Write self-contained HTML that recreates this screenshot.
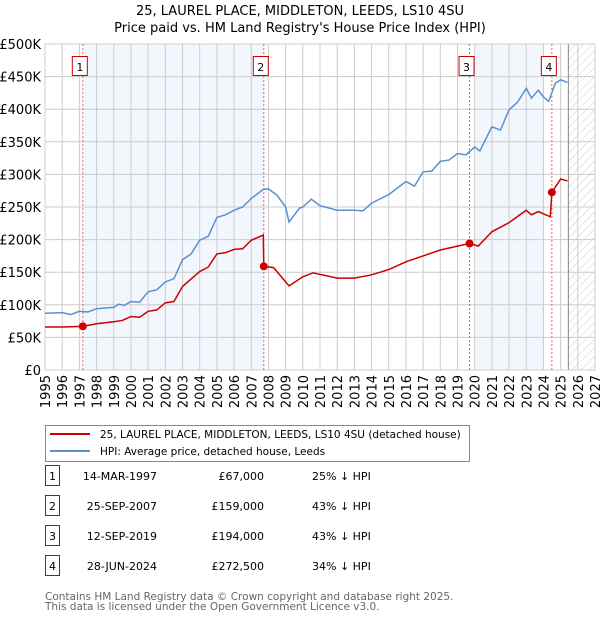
<!DOCTYPE html>
<html><head><meta charset="utf-8"><style>
body{margin:0;background:#fff;font-family:"Liberation Sans","DejaVu Sans",sans-serif;}
svg text{font-family:"DejaVu Sans","Liberation Sans",sans-serif;}
</style></head><body>
<svg id="chart" width="600" height="620" viewBox="0 0 600 620">
<defs><pattern id="hatch" width="6" height="6" patternUnits="userSpaceOnUse" patternTransform="rotate(45)"><line x1="0" y1="0" x2="0" y2="6" stroke="#ccc" stroke-width="1"/></pattern></defs>
<text x="300" y="15" text-anchor="middle" font-size="13">25, LAUREL PLACE, MIDDLETON, LEEDS, LS10 4SU</text>
<text x="300" y="32" text-anchor="middle" font-size="13">Price paid vs. HM Land Registry's House Price Index (HPI)</text>
<g id="plot"></g>
<g id="legend">
<rect x="45.5" y="425.5" width="424" height="36" fill="#fff" stroke="#888"/>
<line x1="50" y1="434" x2="90" y2="434" stroke="#cc0000" stroke-width="2"/>
<text x="100" y="438" font-size="10.5">25, LAUREL PLACE, MIDDLETON, LEEDS, LS10 4SU (detached house)</text>
<line x1="50" y1="451" x2="90" y2="451" stroke="#5b8fd0" stroke-width="2"/>
<text x="100" y="455" font-size="10.5">HPI: Average price, detached house, Leeds</text>
</g>
<g id="table" font-size="11"></g>
<text x="45" y="600" font-size="10.5" fill="#666">Contains HM Land Registry data © Crown copyright and database right 2025.</text>
<text x="45" y="610" font-size="10.5" fill="#666">This data is licensed under the Open Government Licence v3.0.</text>
</svg>
<script>
const hpiYears=[1995,1996,1996.5,1997,1997.5,1998,1998.5,1999,1999.3,1999.6,2000,2000.5,2001,2001.5,2002,2002.5,2003,2003.5,2004,2004.5,2005,2005.5,2006,2006.5,2007,2007.7,2008,2008.5,2009,2009.2,2009.8,2010,2010.5,2011,2012,2013,2013.5,2014,2015,2016,2016.5,2017,2017.5,2018,2018.5,2019,2019.5,2020,2020.3,2021,2021.5,2022,2022.5,2023,2023.3,2023.7,2024,2024.3,2024.7,2025,2025.4];
const hpiValues=[87,88,85,90,89,94,95,96,101,99,105,104,120,123,135,140,169,178,199,205,234,238,245,250,263,277,278,268,250,227,248,250,262,252,245,245,244,256,269,289,282,304,305,320,322,332,330,342,336,373,368,399,411,432,417,429,419,412,440,445,441];
const ppYears=[1995,1996,1997.2,1998,1999,1999.5,2000,2000.5,2001,2001.5,2002,2002.5,2003,2004,2004.5,2005,2005.5,2006,2006.5,2007,2007.7,2007.73,2008.3,2009.2,2010,2010.6,2012,2013,2014,2015,2016,2017,2018,2019,2019.7,2020.2,2021,2022,2023,2023.3,2023.7,2024.4,2024.49,2025,2025.4];
const ppValues=[66,66,67,71,74,76,82,81,90,92,103,105,128,151,158,178,180,185,186,199,207,159,157,129,143,149,141,141,146,154,166,175,184,190,194,190,212,226,245,238,243,235,272.5,293,290];
const saleLabels=["1","2","3","4"];
const saleYears=[1997.2,2007.73,2019.7,2024.49];
const saleValues=[67,159,194,272.5];
const saleDates=["14-MAR-1997","25-SEP-2007","12-SEP-2019","28-JUN-2024"];
const salePrices=["£67,000","£159,000","£194,000","£272,500"];
const saleDiffs=["25% ↓ HPI","43% ↓ HPI","43% ↓ HPI","34% ↓ HPI"];
const yTicks=[0,50,100,150,200,250,300,350,400,450,500];
const yTickLabels=["£0","£50K","£100K","£150K","£200K","£250K","£300K","£350K","£400K","£450K","£500K"];
const xTicks=[1995,1996,1997,1998,1999,2000,2001,2002,2003,2004,2005,2006,2007,2008,2009,2010,2011,2012,2013,2014,2015,2016,2017,2018,2019,2020,2021,2022,2023,2024,2025,2026,2027];
const shadeRanges=[[1997.2,2007.73],[2020.0,2024.0]];
const dataEnd=2025.45;

const L=45,R=595,T=44,B=370,X0=1995,X1=2027,YMAX=500;
const xs=v=>L+(v-X0)/(X1-X0)*(R-L);
const ys=v=>B-v/YMAX*(B-T);
const NS="http://www.w3.org/2000/svg";
const plot=document.getElementById('plot');
function mk(tag,attrs,parent){const e=document.createElementNS(NS,tag);for(const k in attrs)e.setAttribute(k,attrs[k]);(parent||plot).appendChild(e);return e;}

shadeRanges.forEach(r=>{const e=mk('rect',{x:xs(r[0]),y:T,width:xs(r[1])-xs(r[0]),height:B-T,fill:'#eef3fc',opacity:0.75});

});
const h=mk('rect',{x:xs(dataEnd),y:T,width:R-xs(dataEnd),height:B-T,fill:'url(#hatch)'});


yTicks.forEach((v,i)=>{mk('line',{x1:L,x2:R,y1:ys(v),y2:ys(v),stroke:'#ccc','stroke-width':1});
const t=mk('text',{x:L-4,y:ys(v)+5,'text-anchor':'end','font-size':13});t.textContent=yTickLabels[i];

});
xTicks.forEach(v=>{mk('line',{x1:xs(v),x2:xs(v),y1:T,y2:B,stroke:'#ccc','stroke-width':1});
const t=mk('text',{x:0,y:0,'text-anchor':'end','font-size':13,transform:`translate(${xs(v)+5},${B+5}) rotate(-90)`});t.textContent=v;

});
mk('line',{x1:xs(dataEnd),x2:xs(dataEnd),y1:T,y2:B,stroke:'#888','stroke-width':1});
mk('rect',{x:L,y:T,width:R-L,height:B-T,fill:'none',stroke:'#ccc'});
saleYears.forEach((v,i)=>{const l=mk('line',{x1:xs(v),x2:xs(v),y1:T,y2:B,stroke:'#f06060','stroke-dasharray':'2,2','stroke-width':1});


const cx=xs(v)-3;
const b=mk('rect',{x:cx-7.5,y:56.5,width:15,height:19,fill:'#fff',stroke:'#cc0000'});


const t=mk('text',{x:cx,y:71,'text-anchor':'middle','font-size':11});t.textContent=saleLabels[i];});
const hp=mk('polyline',{points:hpiYears.map((y,i)=>xs(y)+','+ys(hpiValues[i])).join(' '),fill:'none',stroke:'#5b8fd0','stroke-width':1.5});


const pp=mk('polyline',{points:ppYears.map((y,i)=>xs(y)+','+ys(ppValues[i])).join(' '),fill:'none',stroke:'#cc0000','stroke-width':1.5});


saleYears.forEach((v,i)=>{const c=mk('circle',{cx:xs(v),cy:ys(saleValues[i]),r:4,fill:'#cc0000'});

});

const tb=document.getElementById('table');
saleLabels.forEach((s,i)=>{const y=483+i*30;
const b=mk('rect',{x:45.5,y:y-17.5,width:14,height:20,fill:'#fff',stroke:'#cc0000'},tb);


const n=mk('text',{x:52.5,y:y-3,'text-anchor':'middle'},tb);n.textContent=s;
const d=mk('text',{x:157,y:y-3,'text-anchor':'end'},tb);d.textContent=saleDates[i];


const p=mk('text',{x:264,y:y-3,'text-anchor':'end'},tb);p.textContent=salePrices[i];


const f=mk('text',{x:312,y:y-3},tb);f.textContent=saleDiffs[i];

});
</script>
</body></html>
